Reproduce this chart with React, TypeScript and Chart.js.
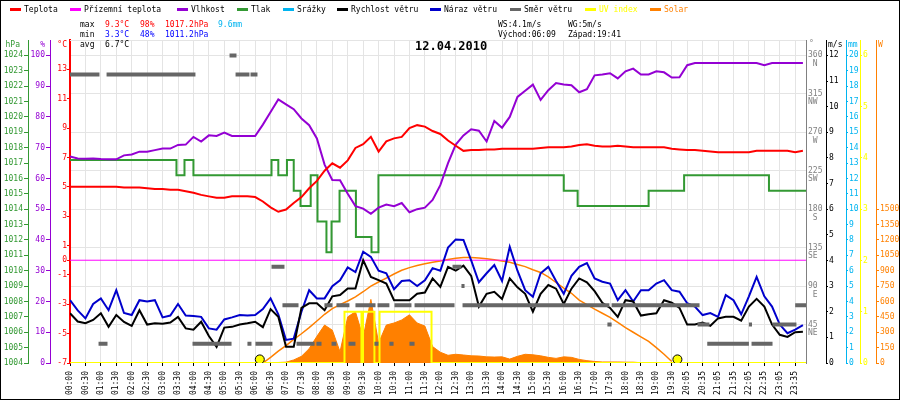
import React, { useEffect, useRef } from "react";
import { Chart, registerables } from "chart.js";

Chart.register(...registerables);

// ---------- categories / ticks ----------
const timeLabels = [
  "00:00","00:30","01:00","01:30","02:00","02:30","03:00","03:30","04:00","04:30",
  "05:00","05:30","06:00","06:30","07:00","07:30","08:00","08:30","09:00","09:30",
  "10:00","10:30","11:00","11:30","12:00","12:30","13:00","13:30","14:00","14:30",
  "15:00","15:30","16:00","16:30","17:00","17:30","18:00","18:30","19:00","19:30",
  "20:05","20:35","21:05","21:35","22:05","22:35","23:05","23:35",
];
const SAMPLE_STEP = 0.5; // one sample every 15 min (label spacing = 30 min)
const X_END = 47.7;

const pressureTicks = [1004,1005,1006,1007,1008,1009,1010,1011,1012,1013,1014,1015,1016,1017,1018,1019,1020,1021,1022,1023,1024];
const humidityTicks = [0,10,20,30,40,50,60,70,80,90,100];
const tempTicks = [13,11,9,7,5,3,1,0,-1,-3,-5,-7];
const dirTicks = [45,90,135,180,225,270,315,360];
const dirNames = ["NE","E","SE","S","SW","W","NW","N"];
const windTicks = [0,1,2,3,4,5,6,7,8,9,10,11,12];
const rainTicks = [0,1,2,3,4,5,6,7,8,9,10,11,12,13,14,15,16,17,18,19,20];
const uvTicks = [0,1,2,3,4,5,6];
const solarTicks = [0,150,300,450,600,750,900,1050,1200,1350,1500];

// ---------- series (15-min samples) ----------
const temperature = [
  5.0,5.0,5.0,5.0,5.0,5.0,5.0,4.95,4.95,4.95,
  4.9,4.85,4.85,4.8,4.8,4.7,4.6,4.45,4.35,4.25,
  4.25,4.35,4.35,4.35,4.3,4.0,3.6,3.3,3.45,3.9,
  4.3,4.9,5.4,6.1,6.6,6.3,6.8,7.65,7.9,8.4,
  7.4,8.1,8.3,8.4,9.0,9.2,9.1,8.8,8.6,8.15,
  7.8,7.45,7.5,7.5,7.55,7.55,7.6,7.6,7.6,7.6,
  7.6,7.65,7.7,7.7,7.7,7.75,7.85,7.9,7.8,7.75,
  7.75,7.8,7.75,7.7,7.7,7.7,7.7,7.7,7.6,7.55,
  7.5,7.5,7.45,7.4,7.35,7.35,7.35,7.35,7.35,7.45,
  7.45,7.45,7.45,7.45,7.35,7.45,
];
const humidity = [
  67.1,66.5,66.4,66.5,66.3,66.2,66.2,67.5,67.8,68.7,
  68.7,69.2,69.7,69.7,70.9,71,73.5,72,74,73.8,
  74.9,73.8,73.8,73.8,73.8,77.5,81.6,85.7,84.1,82.5,
  79.5,77.3,73,64.5,59.5,59.4,55,51,50.2,48.5,
  50.5,51.5,51,52,49,50,50.5,53,57.8,65,
  71,74,76,75.5,72,78.7,76.5,80,86.5,88.5,
  90.5,85.5,88.7,91,90.5,90.3,88,89,93.5,93.8,
  94.2,92.5,94.8,95.7,93.8,93.8,94.8,94.5,92.8,92.9,
  96.8,97.5,97.5,97.5,97.5,97.5,97.5,97.5,97.5,97.5,
  96.8,97.5,97.5,97.5,97.5,97.5,
];
const windSpeed = [
  1.94,1.62,1.55,1.68,1.94,1.41,1.87,1.6,1.45,2.06,
  1.5,1.55,1.53,1.58,1.8,1.35,1.3,1.61,1.05,0.63,
  1.38,1.41,1.5,1.55,1.61,1.4,2.1,1.8,0.63,0.63,
  2.15,2.33,2.33,2.06,2.6,2.65,2.91,2.91,4.01,3.36,
  3.23,3.1,2.45,2.45,2.45,2.7,2.75,3.3,2.97,3.75,
  3.6,3.8,3.4,2.2,2.7,2.78,2.5,3.3,2.95,2.7,
  2.0,2.7,3.04,2.9,2.3,2.9,3.3,3.15,2.8,2.35,
  2.15,1.8,2.45,2.4,1.85,1.9,1.94,2.45,2.35,2.15,
  1.5,1.5,1.58,1.45,1.74,1.8,1.8,1.65,2.2,2.5,
  2.2,1.5,1.1,1.02,1.2,1.22,
];
const windGust = [
  2.45,2.05,1.74,2.3,2.52,2.06,2.84,1.95,1.87,2.45,
  2.4,2.45,1.78,1.85,2.3,1.85,1.83,1.8,1.35,1.3,
  1.7,1.78,1.87,1.85,1.87,2.1,2.52,1.9,0.9,0.95,
  2.0,2.84,2.52,2.52,3.0,3.23,3.73,3.55,4.34,4.14,
  3.6,3.5,2.88,3.2,3.23,3.0,3.23,3.7,3.6,4.5,
  4.82,4.8,4.0,3.15,3.5,3.82,3.2,4.53,3.6,2.84,
  2.58,3.5,3.75,3.2,2.7,3.4,3.75,3.9,3.3,3.17,
  3.1,2.45,2.84,2.4,2.84,2.84,3.1,3.23,2.84,2.78,
  2.33,2.2,1.87,1.95,1.8,2.65,2.45,1.9,2.6,3.36,
  2.6,2.2,1.5,1.16,1.3,1.48,
];
const rainSum = [
  0,0,0,0,0,0,0,0,0,0,
  0,0,0,0,0,0,0,0,0,0,
  0,0,0,0,0,0,0,0,0,0,
  0,0,0,0,0,0,0,0,0,0,
  0,0,0,0,0,0,0,0,0,0,
  0,0.06,0.1,0.24,0.3,0.42,0.54,0.63,0.95,1.23,
  1.5,1.86,2.19,2.58,3.0,3.28,3.66,3.98,4.31,4.55,
  4.79,5.14,5.57,5.88,6.14,6.31,6.53,6.7,6.9,7.45,
  7.95,8.37,8.65,8.7,8.75,8.86,9.03,9.16,9.25,9.3,
  9.33,9.37,9.44,9.5,9.53,9.55,
];
const solar = [
  0,0,0,0,0,0,0,0,0,0,
  0,0,0,0,0,0,0,0,0,0,
  0,0,0,0,0,0,3,5,8,30,
  65,140,260,370,320,110,450,500,250,620,
  195,370,390,420,470,390,360,160,105,75,
  85,78,70,68,60,58,60,38,65,85,
  80,70,55,45,60,55,35,23,15,10,
  10,10,8,8,3,0,0,0,0,0,
  0,0,0,0,0,0,0,0,0,0,
  0,0,0,0,0,0,
];
const solarClearSky = [
  null,null,null,null,null,null,null,null,null,null,
  null,null,null,null,null,null,null,null,null,null,
  null,null,null,null,null,0,55,115,170,230,
  285,345,410,475,530,570,605,645,695,750,
  790,828,868,904,930,950,968,982,995,1010,
  1022,1030,1030,1025,1016,1008,995,983,960,940,
  910,883,840,785,730,680,614,570,525,485,
  445,395,345,300,255,210,150,85,15,null,
  null,null,null,null,null,null,null,null,null,null,
  null,null,null,null,null,null,
];

// step series given by change points (x in label units)
const pressureX = [0,6.9,7.42,8.0,13.06,13.5,14.06,14.5,14.94,15.6,16.04,16.62,16.95,17.47,18.53,19.54,19.99,32.0,32.9,37.5,39.8,45.3,47.7];
const pressureV = [1017.2,1016.2,1017.2,1016.2,1017.2,1016.2,1017.2,1015.2,1014.2,1016.2,1013.2,1011.2,1013.2,1015.2,1012.2,1011.2,1016.2,1015.2,1014.2,1015.2,1016.2,1015.2,1015.2];
const uvX = [0,17.79,18.89,18.99,19.73,20.06,23.43,47.7];
const uvV = [0,1,0,1,0,1,0,0];
const groundX = [0,47.7];
const groundV = [0,0];

// wind direction runs
const dirStart = [0,2.37,10.73,11.7,10.34,1.85,7.94,11.5,12.02,14.68,15.97,16.95,18.05,19.73,20.7,22.0,41.3,44.17,13.06,24.79,13.77,16.49,17.27,18.5,19.93,21.03,22.33,25.44,35.1,47.0,25.37,34.83,40.67,44.0,45.53];
const dirEnd   = [1.91,8.13,11.63,12.15,10.79,2.43,10.47,11.76,13.12,15.85,16.3,17.27,18.5,19.99,20.97,22.33,44.0,45.53,13.9,25.37,14.81,17.01,18.11,19.8,20.7,22.13,24.92,34.96,40.8,47.7,25.57,35.1,41.44,44.2,47.08];
const dirDeg   = [337.5,337.5,337.5,337.5,360,22.5,22.5,22.5,22.5,22.5,22.5,22.5,22.5,22.5,22.5,22.5,22.5,22.5,112.5,112.5,67.5,67.5,67.5,67.5,67.5,67.5,67.5,67.5,67.5,67.5,90,45,45,45,45];

// summary texts
const dateTitle = "12.04.2010";
const tempStat = [9.3, 3.3, 6.7];
const humStat = [98, 48];
const presStat = [1017.2, 1011.2];
const rainTotal = 9.6;
const windMax = 4.1;
const gustMax = 5;
const sunrise = "06:09";
const sunset = "19:41";

// ---------- styling ----------
const FONT = '"DejaVu Sans Mono", monospace';
const GRID = "#e4e4e4";
const RED = "#ff0000";
const MAGENTA = "#ff00ff";
const PURPLE = "#9400d3";
const GREEN = "#339933";
const CYAN = "#00b4f0";
const BLUE = "#0000cc";
const DIRGRAY = "#666666";
const AXGRAY = "#808080";
const YELLOW = "#ffff00";
const ORANGE = "#ff8000";
const MINBLUE = "#0000ff";

const legendX = [10, 70, 177, 237, 283, 337, 430, 510, 585, 650];

const toU = (t: string) => {
  const [h, m] = t.split(":").map(Number);
  return (h * 60 + m) / 30;
};
const series = (vals: (number | null)[]) => vals.map((v, i) => ({ x: i * SAMPLE_STEP, y: v }));
const pairs = (xs: number[], ys: number[]) => xs.map((x, i) => ({ x, y: ys[i] }));

const overlayPlugin = {
  id: "overlay",
  beforeDraw(chart: any) {
    const c = chart.ctx;
    c.save();
    c.fillStyle = "#fff";
    c.fillRect(0, 0, chart.width, chart.height);
    c.restore();
  },
  beforeDatasetsDraw(chart: any) {
    const { ctx: c, chartArea: a } = chart;
    c.save();
    c.strokeStyle = GRID;
    c.lineWidth = 1;
    c.beginPath();
    c.moveTo(a.left, a.top + 0.5);
    c.lineTo(a.right, a.top + 0.5);
    c.stroke();
    c.restore();
  },
  afterDraw(chart: any) {
    const c = chart.ctx;
    c.save();
    c.textBaseline = "middle";
    c.textAlign = "left";
    c.font = `8px ${FONT}`;
    let k = 0;
    chart.data.datasets.forEach((ds: any) => {
      if (!ds.inLegend) return;
      const lx = legendX[k++];
      c.strokeStyle = ds.borderColor;
      c.lineWidth = 3;
      c.beginPath();
      c.moveTo(lx, 9.5);
      c.lineTo(lx + 11, 9.5);
      c.stroke();
      c.fillStyle = ds.legendTextColor || "#000";
      c.fillText(ds.label, lx + 14, 9.5);
    });
    const put = (t: string, x: number, y: number, col: string) => {
      c.fillStyle = col;
      c.fillText(t, x, y);
    };
    put("max", 80, 24.5, "#000");
    put(`${tempStat[0].toFixed(1)}°C`, 105, 24.5, RED);
    put(`${humStat[0]}%`, 140, 24.5, RED);
    put(`${presStat[0].toFixed(1)}hPa`, 165, 24.5, RED);
    put(`${rainTotal.toFixed(1)}mm`, 218, 24.5, CYAN);
    put("min", 80, 34.5, "#000");
    put(`${tempStat[1].toFixed(1)}°C`, 105, 34.5, MINBLUE);
    put(`${humStat[1]}%`, 140, 34.5, MINBLUE);
    put(`${presStat[1].toFixed(1)}hPa`, 165, 34.5, MINBLUE);
    put("avg", 80, 44.5, "#000");
    put(`${tempStat[2].toFixed(1)}°C`, 105, 44.5, "#000");
    put(`WS:${windMax}m/s`, 498, 24.5, "#000");
    put(`WG:${gustMax}m/s`, 568, 24.5, "#000");
    put(`Východ:${sunrise}`, 498, 34.5, "#000");
    put(`Západ:${sunset}`, 568, 34.5, "#000");

    const S = chart.scales;
    c.textAlign = "right";
    put("hPa", S.p.right - 8, 44.5, GREEN);
    put("%", S.h.right - 5, 44.5, PURPLE);
    put("°C", S.t.right - 3, 44.5, RED);
    c.textAlign = "left";
    put("°", S.d.left + 3, 43.5, AXGRAY);
    put("m/s", S.w.left + 2, 44.5, "#000");
    put("mm", S.r.left + 2, 44.5, CYAN);
    put("W", S.s.left + 2, 44.5, ORANGE);

    c.font = `bold 12px ${FONT}`;
    put(dateTitle, 415, 46.5, "#000");

    c.strokeStyle = "#000";
    c.lineWidth = 1;
    c.strokeRect(0.5, 0.5, chart.width - 1, chart.height - 1);
    c.restore();
  },
};

const tickFont = { family: FONT, size: 8, lineHeight: 1.05 };

function yAxis(opts: {
  position: "left" | "right";
  weight: number;
  min: number;
  max: number;
  width: number;
  color: string;
  ticks: number[];
  borderWidth?: number;
  tickLength?: number;
  padding?: number;
  callback?: (v: any, i: number) => any;
  grid?: any;
  labelOffset?: number;
}) {
  return {
    type: "linear",
    position: opts.position,
    weight: opts.weight,
    min: opts.min,
    max: opts.max,
    afterBuildTicks: (s: any) => {
      s.ticks = opts.ticks.map((v) => ({ value: v }));
    },
    afterFit: (s: any) => {
      s.width = opts.width;
    },
    ticks: {
      autoSkip: false,
      color: opts.color,
      font: tickFont,
      padding: opts.padding ?? 1,
      labelOffset: opts.labelOffset ?? 0,
      callback: opts.callback ?? ((v: any) => String(v)),
    },
    grid: opts.grid ?? {
      display: true,
      drawOnChartArea: false,
      drawTicks: true,
      tickLength: opts.tickLength ?? 3,
      tickColor: opts.color,
      color: opts.color,
    },
    border: { display: true, color: opts.color, width: opts.borderWidth ?? 1 },
  };
}

function buildConfig(): any {
  const dirData: any[] = [];
  dirStart.forEach((s, i) => {
    dirData.push({ x: s, y: dirDeg[i] }, { x: dirEnd[i], y: dirDeg[i] }, { x: dirEnd[i], y: null });
  });
  const base = { pointRadius: 0, pointHoverRadius: 0, tension: 0, fill: false, spanGaps: false };
  return {
    type: "line",
    data: {
      datasets: [
        { ...base, label: "Teplota", inLegend: true, data: series(temperature), yAxisID: "t", borderColor: RED, borderWidth: 2, order: 40 },
        { ...base, label: "Přízemní teplota", inLegend: true, data: pairs(groundX, groundV), yAxisID: "t", borderColor: MAGENTA, borderWidth: 1, order: 60 },
        { ...base, label: "Vlhkost", inLegend: true, data: series(humidity), yAxisID: "h", borderColor: PURPLE, borderWidth: 2, order: 45 },
        { ...base, label: "Tlak", inLegend: true, data: pairs(pressureX, pressureV), yAxisID: "p", borderColor: GREEN, borderWidth: 2, stepped: "before", order: 50 },
        { ...base, label: "Srážky", inLegend: true, data: series(rainSum), yAxisID: "r", borderColor: CYAN, borderWidth: 2, order: 80 },
        { ...base, label: "Rychlost větru", inLegend: true, data: series(windSpeed), yAxisID: "w", borderColor: "#000000", borderWidth: 2, order: 30 },
        { ...base, label: "Náraz větru", inLegend: true, data: series(windGust), yAxisID: "w", borderColor: BLUE, borderWidth: 2, order: 31 },
        { ...base, label: "Směr větru", inLegend: true, data: dirData, yAxisID: "d", borderColor: DIRGRAY, borderWidth: 4, borderCapStyle: "butt", order: 20 },
        { ...base, label: "UV index", inLegend: true, legendTextColor: YELLOW, data: pairs(uvX, uvV), yAxisID: "uv", borderColor: YELLOW, borderWidth: 2, stepped: "before", order: 70 },
        { ...base, label: "Solar", inLegend: true, legendTextColor: ORANGE, data: series(solar), yAxisID: "s", borderColor: ORANGE, backgroundColor: ORANGE, borderWidth: 1, fill: "origin", order: 100 },
        { ...base, label: "Solar max", data: series(solarClearSky), yAxisID: "s", borderColor: ORANGE, borderWidth: 1.5, order: 90 },
        {
          label: "Slunce",
          data: [sunrise, sunset].map((t) => ({ x: toU(t), y: 0.07 })),
          yAxisID: "uv",
          showLine: false,
          pointRadius: 4.5,
          pointHoverRadius: 4.5,
          pointBackgroundColor: YELLOW,
          pointBorderColor: "#000",
          pointBorderWidth: 1,
          order: 5,
        },
      ],
    },
    options: {
      responsive: false,
      animation: false,
      events: [],
      layout: { padding: { top: 40, left: 0, right: 0, bottom: 0 } },
      plugins: { legend: { display: false }, tooltip: { enabled: false }, title: { display: false } },
      scales: {
        x: {
          type: "linear",
          min: 0,
          max: X_END,
          afterBuildTicks: (s: any) => {
            s.ticks = timeLabels.map((_, i) => ({ value: i }));
          },
          afterFit: (s: any) => {
            s.height = 37;
          },
          ticks: {
            autoSkip: false,
            minRotation: 90,
            maxRotation: 90,
            padding: 5,
            color: "#000",
            font: { family: FONT, size: 8 },
            callback: (_v: any, i: number) => timeLabels[i] ?? "",
          },
          grid: { color: GRID, lineWidth: 1, drawTicks: true, tickLength: 3, tickColor: "#000" },
          border: { display: false },
        },
        t: yAxis({ position: "left", weight: 1, min: -7, max: 15, width: 20, color: RED, ticks: tempTicks, borderWidth: 2, tickLength: 3, padding: 0 }),
        h: yAxis({ position: "left", weight: 2, min: 0, max: 105, width: 22, color: PURPLE, ticks: humidityTicks, tickLength: 4, padding: 1 }),
        p: yAxis({ position: "left", weight: 3, min: 1004, max: 1025, width: 28, color: GREEN, ticks: pressureTicks, tickLength: 4, padding: 1 }),
        d: yAxis({
          position: "right", weight: 1, min: 0, max: 378, width: 20, color: AXGRAY, ticks: dirTicks, padding: 2,
          labelOffset: 4.2,
          callback: (v: any, i: number) => [String(dirTicks[i]), dirNames[i].padStart(2, " ")],
          grid: { display: true, drawOnChartArea: true, drawTicks: false, color: GRID, lineWidth: 1 },
        }),
        w: yAxis({ position: "right", weight: 2, min: 0, max: 12.6, width: 20, color: "#000000", ticks: windTicks, tickLength: 2, padding: 1 }),
        r: yAxis({ position: "right", weight: 3, min: 0, max: 21, width: 14, color: CYAN, ticks: rainTicks, tickLength: 2, padding: 1 }),
        uv: yAxis({ position: "right", weight: 4, min: 0, max: 6.3, width: 16, color: YELLOW, ticks: uvTicks, tickLength: 2, padding: 1 }),
        s: yAxis({ position: "right", weight: 5, min: 0, max: 3150, width: 24, color: ORANGE, ticks: solarTicks, tickLength: 3, padding: 1 }),
      },
    },
    plugins: [overlayPlugin],
  };
}

export default function App() {
  const ref = useRef<HTMLCanvasElement | null>(null);
  useEffect(() => {
    if (!ref.current) return;
    const chart = new Chart(ref.current, buildConfig());
    return () => chart.destroy();
  }, []);
  return (
    <div style={{ position: "fixed", left: 0, top: 0, width: 900, height: 400, background: "#fff" }}>
      <canvas ref={ref} width={900} height={400} style={{ display: "block", width: 900, height: 400 }} />
    </div>
  );
}
